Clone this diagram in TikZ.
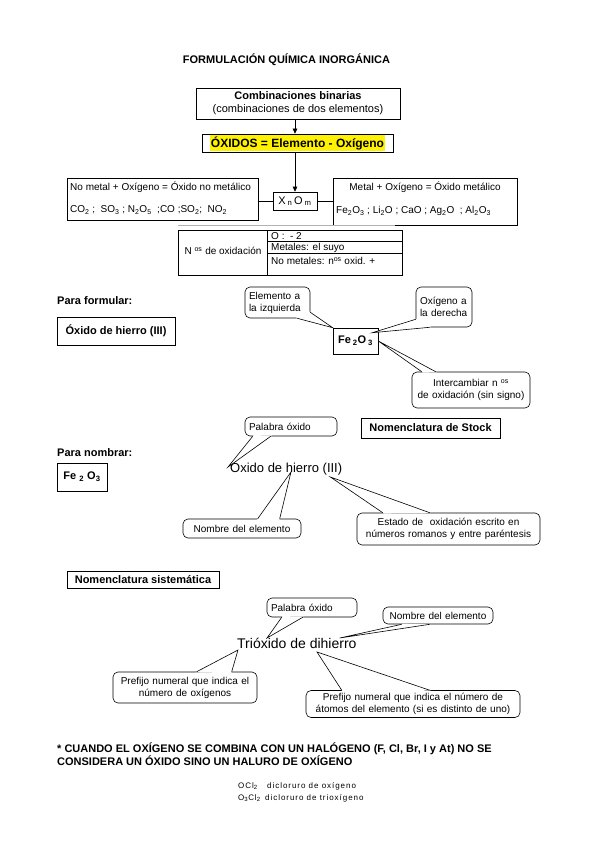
\documentclass[tikz,border=0pt]{standalone}
\usepackage{fontspec}
\setmainfont{Liberation Sans}
\usetikzlibrary{arrows.meta,calc}
\newcommand\ptrwedge[3]{%
  \fill[white] ($(#1)!-1.5pt!(#3)$) -- (#3) -- ($(#2)!-1.5pt!(#3)$) -- cycle;
  \draw[ptr] (#1) -- (#3) -- (#2);}
\begin{document}
\begin{tikzpicture}[x=1pt,y=-1pt,
  box/.style={draw, line width=0.6pt, inner sep=0pt, align=center},
  call/.style={draw, line width=0.6pt, rounded corners=5pt, fill=white, inner xsep=4pt, inner ysep=1pt, font=\fontsize{10}{12}\selectfont},
  ptr/.style={line width=0.6pt, line join=miter},
  arr/.style={line width=0.6pt, -{Triangle[length=5pt,width=4.5pt]}},
  bft/.style={font=\bfseries\fontsize{11}{13}\selectfont},
  nft/.style={font=\fontsize{10}{12}\selectfont},
  txt/.style={inner sep=0pt},
]
\fill[white] (0,0) rectangle (599,848);
\useasboundingbox (0,0) rectangle (599,848);

% title
\node[bft, txt] (title) at (286.5,60) {FORMULACIÓN QUÍMICA INORGÁNICA};

% top boxes
\node[box, minimum width=204pt, minimum height=31pt, font=\fontsize{11}{13}\selectfont] (b1) at (298,103.5) {\textbf{Combinaciones binarias}\\(combinaciones de dos elementos)};
\node[box, minimum width=191pt, minimum height=18pt, font=\bfseries\fontsize{12}{14}\selectfont] (b2) at (297.5,143) {\setlength{\fboxsep}{1pt}\colorbox{yellow}{ÓXIDOS = Elemento - Oxígeno}};
\node[box, minimum width=44pt, minimum height=18pt, font=\fontsize{11}{13}\selectfont] (xo) at (295,201) {X\,\textsubscript{n}\,O\,\textsubscript{m}};

\node[box, minimum width=191pt, minimum height=42pt] (L) at (162.5,199) {};
\node[nft, txt, anchor=west] (L1) at (70,187) {No metal + Oxígeno = Óxido no metálico};
\node[nft, txt, anchor=west] (L2) at (70,210) {CO\textsubscript{2} ;\ \ SO\textsubscript{3} ; N\textsubscript{2}O\textsubscript{5}\ \ ;CO ;SO\textsubscript{2};\ \ NO\textsubscript{2}};

\node[box, minimum width=184pt, minimum height=47pt] (R) at (425,201.5) {};
\node[nft, txt] (R1) at (425,187) {Metal + Oxígeno = Óxido metálico};
\node[nft, txt, anchor=west] (R2) at (336,211) {Fe\textsubscript{2}O\textsubscript{3} ; Li\textsubscript{2}O ; CaO ; Ag\textsubscript{2}O\ \ ; Al\textsubscript{2}O\textsubscript{3}};

\draw[arr] (b1.south -| xo.north) -- (b2.north -| xo.north);
\draw[arr] (b2.south -| xo.north) -- (xo.north);
\draw[line width=0.6pt] (xo.west) -- (xo.west -| L.east);
\draw[line width=0.6pt] (xo.east) -- (xo.east -| R.west);

% table
\draw[black!30, line width=0.5pt] (178,225) -- (395,225);
\node[box, minimum width=224pt, minimum height=45pt] (tbl) at (290,252.5) {};
\coordinate (tdv) at ($(tbl.north west)+(90,0)$);
\draw[line width=0.6pt] (tdv) -- (tdv |- tbl.south);
\draw[line width=0.6pt] ($(tdv)+(0,11.5)$) -- ($(tbl.north east)+(0,11.5)$);
\draw[line width=0.6pt] ($(tdv)+(0,24)$) -- ($(tbl.north east)+(0,24)$);
\node[nft, txt] (tl) at (223,251) {N \textsuperscript{os} de oxidación};
\node[nft, txt, anchor=west] (t1) at (271,236) {O :\ \ - 2};
\node[nft, txt, anchor=west] (t2) at (271,248) {Metales: el suyo};
\node[nft, txt, anchor=west] (t3) at (271,261) {No metales: n\textsuperscript{os} oxid. +};

% para formular
\node[bft, txt, anchor=west] (pf) at (57,301) {Para formular:};
\node[box, bft, minimum width=118pt, minimum height=28pt] (fo) at (116,331) {Óxido de hierro (III)};
\node[box, bft, minimum width=45pt, minimum height=26pt] (fe) at (355.5,341) {Fe\,\textsubscript{2}O\,\textsubscript{3}};

\node[call, text width=57pt, minimum height=31pt, align=left] (c1) at (277.5,302.5) {Elemento a\\la izquierda};
\node[call, text width=48pt, minimum height=40pt, align=left] (c2) at (444,307) {Oxígeno a\\la derecha};
\node[call, text width=110pt, minimum height=36pt, align=center] (c3) at (471,390) {Intercambiar n \textsuperscript{os}\\de oxidación (sin signo)};

\coordinate (c1a) at ($(c1.south east)+(-13,0)$);
\coordinate (c1b) at ($(c1.south east)+(0,-6)$);
\coordinate (c1t) at (fe.north west);
\ptrwedge{c1a}{c1b}{c1t}
\coordinate (c2a) at ($(c2.south west)+(0,-8)$);
\coordinate (c2b) at ($(c2.south west)+(14,0)$);
\coordinate (c2t) at ($(fe.north east)+(-6,5)$);
\ptrwedge{c2a}{c2b}{c2t}
\coordinate (c3a) at ($(c3.north west)+(10,0)$);
\coordinate (c3b) at ($(c3.north west)+(24,0)$);
\coordinate (c3t) at (fe.east);
\ptrwedge{c3a}{c3b}{c3t}

% para nombrar (Stock)
\node[call, text width=84pt, minimum height=19pt, align=left] (c4) at (291,426.5) {Palabra óxido};
\node[box, bft, minimum width=139pt, minimum height=20pt] (st) at (430.5,428) {Nomenclatura de Stock};
\node[bft, txt, anchor=west] (pn) at (57,453) {Para nombrar:};
\node[box, bft, minimum width=50pt, minimum height=28pt] (fe2) at (82,477) {Fe \textsubscript{2} O\textsubscript{3}};
\node[txt, anchor=base west, font=\fontsize{13}{15}\selectfont] (ox) at (230,472) {Óxido de hierro (III)};
\node[call, text width=110pt, minimum height=19pt, align=center] (c5) at (242,528.5) {Nombre del elemento};
\node[call, text width=175pt, minimum height=32pt, align=center] (c6) at (448.5,529) {Estado de\ \ oxidación escrito en\\números romanos y entre paréntesis};

\coordinate (c4a) at ($(c4.south west)+(8,0)$);
\coordinate (c4b) at ($(c4.south west)+(26,0)$);
\coordinate (c4t) at ($(ox.base west)+(-2,-5)$);
\ptrwedge{c4a}{c4b}{c4t}
\coordinate (c5a) at ($(c5.north west)+(75,0)$);
\coordinate (c5b) at ($(c5.north west)+(97,0)$);
\coordinate (c5t) at ($(ox.base west)+(61,0)$);
\ptrwedge{c5a}{c5b}{c5t}
\coordinate (c6a) at ($(c6.north west)+(26,0)$);
\coordinate (c6b) at ($(c6.north west)+(73,0)$);
\coordinate (c6t) at ($(ox.base east)+(-12,5)$);
\ptrwedge{c6a}{c6b}{c6t}

% sistematica
\node[box, bft, minimum width=152pt, minimum height=17pt] (sis) at (143,579.5) {Nomenclatura sistemática};
\node[call, text width=82pt, minimum height=19pt, align=left] (c7) at (312,607.5) {Palabra óxido};
\node[call, text width=102pt, minimum height=17pt, align=center] (c8) at (438,615.5) {Nombre del elemento};
\node[txt, anchor=base west, font=\fontsize{14}{16}\selectfont] (tri) at (237,648) {Trióxido de dihierro};
\node[call, text width=136pt, minimum height=31pt, align=center] (c9) at (185,687.5) {Prefijo numeral que indica el\\número de oxígenos};
\node[call, text width=206pt, minimum height=27pt, align=center] (c10) at (413,704) {Prefijo numeral que indica el número de\\átomos del elemento (si es distinto de uno)};

\coordinate (c7a) at ($(c7.south west)+(15,0)$);
\coordinate (c7b) at ($(c7.south west)+(36,0)$);
\coordinate (c7t) at ($(tri.base west)+(30,-10)$);
\ptrwedge{c7a}{c7b}{c7t}
\coordinate (c8a) at ($(c8.south west)+(19,0)$);
\coordinate (c8b) at ($(c8.south west)+(47,0)$);
\coordinate (c8t) at ($(tri.base east)+(-17,-10)$);
\ptrwedge{c8a}{c8b}{c8t}
\coordinate (c9a) at ($(c9.north west)+(84,0)$);
\coordinate (c9b) at ($(c9.north west)+(119,0)$);
\coordinate (c9t) at ($(tri.base west)+(1,2)$);
\ptrwedge{c9a}{c9b}{c9t}
\coordinate (c10a) at ($(c10.north west)+(36,0)$);
\coordinate (c10b) at ($(c10.north west)+(124,0)$);
\coordinate (c10t) at ($(tri.base west)+(80,4)$);
\ptrwedge{c10a}{c10b}{c10t}

% footnote
\node[bft, txt, anchor=base west] (fn1) at (57,752) {* CUANDO EL OXÍGENO SE COMBINA CON UN HALÓGENO (F, Cl, Br, I y At) NO SE};
\node[bft, txt, anchor=base west] (fn2) at (57,765) {CONSIDERA UN ÓXIDO SINO UN HALURO DE OXÍGENO};

\tikzset{small/.style={txt, anchor=base west, font=\fontsize{8}{9}\selectfont\addfontfeature{LetterSpace=12}}}
\node[small] (f1) at (238,788) {OCl\textsubscript{2}};
\node[small] (n1) at (267,788) {dicloruro de oxígeno};
\node[small] (f2) at (238,800) {O\textsubscript{3}Cl\textsubscript{2}};
\node[small] (n2) at (265,800) {dicloruro de trioxígeno};
\end{tikzpicture}
\end{document}
